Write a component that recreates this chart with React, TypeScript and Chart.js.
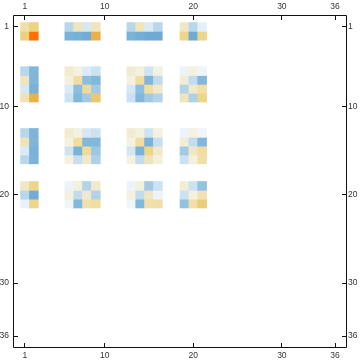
import React, { useEffect, useRef } from "react";
import { Chart, registerables } from "chart.js";

Chart.register(...registerables);

// Matrix size and tick labels
const N = 36;
const TICK_VALUES = [1, 10, 20, 30, 36];

// Non-empty rows and columns of the 36x36 matrix
const ACTIVE_ROWS = [1, 2, 6, 7, 8, 9, 13, 14, 15, 16, 19, 20, 21];
const ACTIVE_COLS = [1, 2, 6, 7, 8, 9, 13, 14, 15, 16, 19, 20, 21];

// Values per active row (one value per active column)
const ROW_1 = [0.42, 0.58, -0.45, 0.33, -0.28, 0.33, -0.45, 0.33, -0.25, -0.45, 0.28, -0.45, -0.18];
const ROW_2 = [0.6, 1.0, -0.75, -0.78, -0.82, 0.78, -0.75, -0.8, -0.85, -0.85, 0.55, -0.85, 0.55];
const ROW_6 = [-0.45, -0.72, 0.22, 0.12, -0.25, -0.35, 0.22, 0.12, -0.33, 0.12, -0.12, 0.12, -0.08];
const ROW_7 = [0.33, -0.72, 0.14, 0.45, -0.65, -0.7, 0.12, 0.45, -0.72, -0.4, 0.2, -0.4, -0.7];
const ROW_8 = [-0.28, -0.76, -0.25, -0.65, 0.48, -0.55, -0.28, -0.65, 0.45, 0.25, -0.48, 0.25, 0.42];
const ROW_9 = [0.37, 0.78, -0.35, -0.7, -0.55, 0.65, -0.36, -0.7, -0.55, -0.48, 0.33, -0.5, 0.55];
const ROW_13 = [-0.45, -0.73, 0.22, 0.12, -0.28, -0.35, 0.22, 0.12, -0.33, 0.12, -0.12, 0.12, -0.08];
const ROW_14 = [0.35, -0.72, 0.12, 0.45, -0.7, -0.7, 0.12, 0.45, -0.75, -0.38, 0.2, -0.4, -0.7];
const ROW_15 = [-0.25, -0.75, -0.33, -0.75, 0.48, -0.58, -0.3, -0.75, 0.55, 0.25, -0.55, 0.28, 0.45];
const ROW_16 = [-0.45, -0.74, 0.12, -0.38, 0.25, -0.5, 0.12, -0.4, 0.33, 0.15, -0.35, 0.15, 0.42];
const ROW_19 = [0.28, 0.55, -0.12, 0.15, -0.48, 0.25, -0.12, 0.15, -0.55, -0.35, 0.2, -0.35, -0.62];
const ROW_20 = [-0.45, -0.82, 0.12, -0.4, 0.25, -0.48, 0.12, -0.4, 0.3, -0.12, -0.35, 0.12, 0.37];
const ROW_21 = [-0.15, 0.55, -0.08, -0.7, 0.4, 0.45, -0.08, -0.7, 0.4, 0.42, -0.62, 0.42, 0.62];

const ROWS = [ROW_1, ROW_2, ROW_6, ROW_7, ROW_8, ROW_9, ROW_13, ROW_14, ROW_15, ROW_16, ROW_19, ROW_20, ROW_21];

// Colour ramps
const NEG_STOPS: [number, number[]][] = [
  [0, [248, 250, 252]],
  [0.15, [232, 242, 250]],
  [0.3, [212, 231, 243]],
  [0.45, [185, 215, 235]],
  [0.6, [150, 196, 226]],
  [0.75, [122, 178, 216]],
  [0.9, [105, 166, 210]],
  [1, [95, 158, 205]],
];
const POS_STOPS: [number, number[]][] = [
  [0, [248, 247, 240]],
  [0.15, [243, 240, 220]],
  [0.3, [240, 230, 195]],
  [0.45, [240, 222, 160]],
  [0.6, [236, 208, 125]],
  [0.8, [230, 176, 66]],
  [1, [255, 112, 0]],
];

function ramp(stops: [number, number[]][], t: number): string {
  for (let i = 1; i < stops.length; i++) {
    const [t1, c1] = stops[i];
    const [t0, c0] = stops[i - 1];
    if (t <= t1) {
      const f = (t - t0) / (t1 - t0);
      const c = c0.map((v, k) => Math.round(v + (c1[k] - v) * f));
      return `rgb(${c[0]},${c[1]},${c[2]})`;
    }
  }
  const c = stops[stops.length - 1][1];
  return `rgb(${c[0]},${c[1]},${c[2]})`;
}

function colorFor(v: number): string {
  return v < 0 ? ramp(NEG_STOPS, Math.min(1, -v)) : ramp(POS_STOPS, Math.min(1, v));
}

const PAD = 0.74;

const framePlugin = {
  id: "frameTicks",
  afterDatasetsDraw(chart: any) {
    const ctx = chart.ctx;
    const ca = chart.chartArea;
    const left = ca.left, right = ca.right, top = ca.top, bottom = ca.bottom;
    ctx.save();
    try {
      ctx.strokeStyle = "#111";
      ctx.lineWidth = 1;
      ctx.beginPath();
      ctx.rect(left - 0.5, top - 0.5, right - left + 1, bottom - top + 1);
      ctx.stroke();
      const len = 4;
      ctx.beginPath();
      const sx = chart.scales.x;
      const sy = chart.scales.y;
      TICK_VALUES.forEach((v) => {
        const px = Math.floor(sx.getPixelForValue(v)) + 0.5;
        ctx.moveTo(px, top);
        ctx.lineTo(px, top + len);
        ctx.moveTo(px, bottom);
        ctx.lineTo(px, bottom - len);
        const py = Math.floor(sy.getPixelForValue(v)) + 0.5;
        ctx.moveTo(left, py);
        ctx.lineTo(left + len, py);
        ctx.moveTo(right, py);
        ctx.lineTo(right - len, py);
      });
      ctx.stroke();
    } catch (e) {
      ctx.fillStyle = "red";
      ctx.fillText(String(e), 40, 200);
    }
    ctx.restore();
  },
};

const tickFont = { family: "'Liberation Sans', Arial, sans-serif", size: 8.5 };

function setTicks(scale: any) {
  scale.ticks = TICK_VALUES.map((v) => ({ value: v }));
}

export default function App() {
  const ref = useRef<HTMLCanvasElement>(null);

  useEffect(() => {
    if (!ref.current) return;
    const datasets = ACTIVE_ROWS.map((r, ri) => ({
      label: `row ${r}`,
      data: ACTIVE_COLS.map((c) => ({ x: c, y: [r - 0.5, r + 0.5] })),
      backgroundColor: ROWS[ri].map(colorFor),
      borderWidth: 0,
      barPercentage: 1,
      categoryPercentage: 1,
      grouped: false,
    }));

    const axisCommon = {
      type: "linear" as const,
      offset: false,
      grid: { display: false, drawTicks: false },
      border: { display: false },
      afterBuildTicks: setTicks,
    };

    const chart = new Chart(ref.current, {
      type: "bar",
      data: { datasets: datasets as any },
      options: {
        animation: false,
        responsive: false,
        devicePixelRatio: 1,
        layout: { padding: 0 },
        plugins: { legend: { display: false }, tooltip: { enabled: false } },
        scales: {
          x: {
            ...axisCommon,
            position: "bottom",
            min: 0.5 - PAD,
            max: N + 0.5 + PAD,
            ticks: { font: tickFont, color: "#333", padding: 4, maxRotation: 0, autoSkip: false },
            afterFit: (s: any) => { s.height = 16; },
          },
          x2: {
            ...axisCommon,
            position: "top",
            min: 0.5 - PAD,
            max: N + 0.5 + PAD,
            ticks: { font: tickFont, color: "#333", padding: 4.5, maxRotation: 0, autoSkip: false },
            afterFit: (s: any) => { s.height = 16; },
          },
          y: {
            ...axisCommon,
            position: "left",
            reverse: true,
            min: 0.5 - PAD,
            max: N + 0.5 + PAD,
            ticks: { font: tickFont, color: "#333", padding: 5, autoSkip: false },
            afterFit: (s: any) => { s.width = 14; },
          },
          y2: {
            ...axisCommon,
            position: "right",
            reverse: true,
            min: 0.5 - PAD,
            max: N + 0.5 + PAD,
            ticks: { font: tickFont, color: "#333", padding: 2, autoSkip: false },
            afterFit: (s: any) => { s.width = 14; },
          },
        } as any,
      },
      plugins: [framePlugin],
    });
    return () => chart.destroy();
  }, []);

  return (
    <div style={{ position: "absolute", left: 0, top: 0, width: 360, height: 363, background: "#fff" }}>
      <canvas ref={ref} width={360} height={363} style={{ display: "block" }} />
    </div>
  );
}
